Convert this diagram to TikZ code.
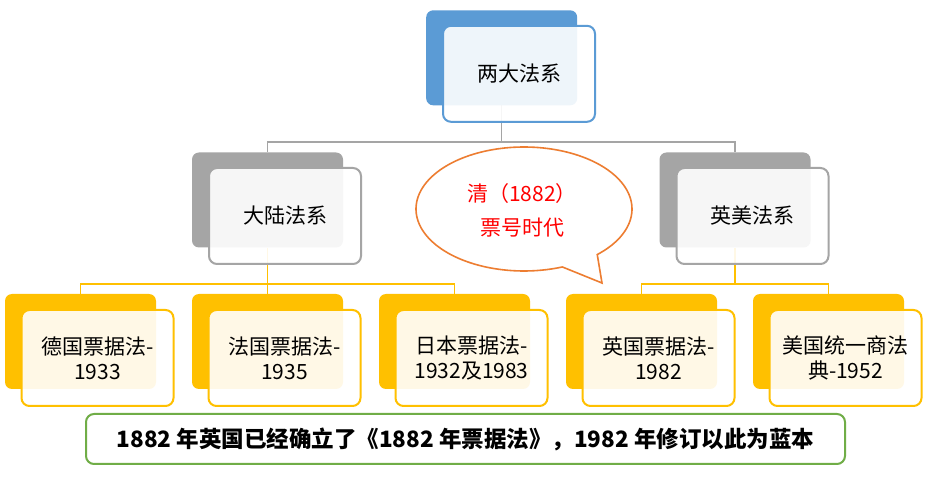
\documentclass[tikz,border=0pt]{standalone}
\usepackage{fontspec}
\newfontfamily\cjk{Noto Sans CJK SC}
\usetikzlibrary{backgrounds}
\definecolor{cblue}{HTML}{5B9BD5}
\definecolor{cgray}{HTML}{A5A5A5}
\definecolor{cyel}{HTML}{FFC000}
\definecolor{cgreen}{HTML}{70AD47}
\definecolor{corange}{HTML}{ED7D31}
\begin{document}
\begin{tikzpicture}[x=1pt,y=-1pt,
  back/.style={rounded corners=7pt, minimum width=151pt, minimum height=95pt, inner sep=0pt},
  front/.style={draw, line width=2pt, rounded corners=8pt, fill=white, fill opacity=0.9, text opacity=1,
    minimum width=152pt, minimum height=96pt, inner sep=0pt, align=center,
    font=\cjk\fontsize{21}{25}\selectfont},
  gline/.style={draw=cgray, line width=1.5pt},
  yline/.style={draw=cyel, line width=1.5pt},
]
\useasboundingbox (0,0) rectangle (938,478);
% level 1
\node[back, fill=cblue] (topb) at (501.7,57.8) {};
\node[front, draw=cblue] (top) at (519,73.8) {两大法系};
% level 2
\node[back, fill=cgray] (conb) at (267.5,200) {};
\node[front, draw=cgray] (con) at (285,216) {大陆法系};
\node[back, fill=cgray] (engb) at (735,200) {};
\node[front, draw=cgray] (eng) at (752.5,216) {英美法系};
% level 3
\node[back, fill=cyel] (d1b) at (80.5,341.5) {};
\node[front, draw=cyel] (d1) at (97.5,358) {德国票据法-\\1933};
\node[back, fill=cyel] (d2b) at (267.5,341.5) {};
\node[front, draw=cyel] (d2) at (284.5,358) {法国票据法-\\1935};
\node[back, fill=cyel] (d3b) at (454.5,341.5) {};
\node[front, draw=cyel] (d3) at (471.5,358) {日本票据法-\\1932及1983};
\node[back, fill=cyel] (d4b) at (641.5,341.5) {};
\node[front, draw=cyel] (d4) at (658.5,358) {英国票据法-\\1982};
\node[back, fill=cyel] (d5b) at (828.5,341.5) {};
\node[front, draw=cyel] (d5) at (845.5,358) {美国统一商法\\典-1952};
% balloon
\draw[corange, line width=1.6pt, fill=white]
  plot[domain=69.2:407.3, samples=150] ({524+108*cos(\x)},{209+62*sin(\x)})
  -- (602,283) -- cycle;
\node[text=red, align=center, font=\cjk\fontsize{21}{34}\selectfont] (qing) at (522,210) {清（1882）\\票号时代};
% note
\node[draw=cgreen, line width=2pt, rounded corners=8pt, minimum width=759pt, minimum height=50pt,
  font=\cjk\bfseries\fontsize{22.5}{26}\selectfont] (note) at (465.5,439)
  {1882 年英国已经确立了《1882 年票据法》，1982 年修订以此为蓝本};
% connectors
\begin{pgfonlayer}{background}
\fill[white] (0,0) rectangle (938,478);
\coordinate (g1) at (0,142);
\coordinate (y1) at (0,284);
\draw[gline] (topb.south) -- (topb.south |- g1) -| (conb.north);
\draw[gline] (topb.south |- g1) -| (engb.north);
\draw[yline] (conb.south) -- (conb.south |- y1) -| (d1b.north);
\draw[yline] (conb.south |- y1) -| (d3b.north);
\draw[yline] (conb.south) -- (d2b.north);
\draw[yline] (engb.south) -- (engb.south |- y1) -| (d4b.north);
\draw[yline] (engb.south |- y1) -| (d5b.north);
\end{pgfonlayer}
\end{tikzpicture}
\end{document}
